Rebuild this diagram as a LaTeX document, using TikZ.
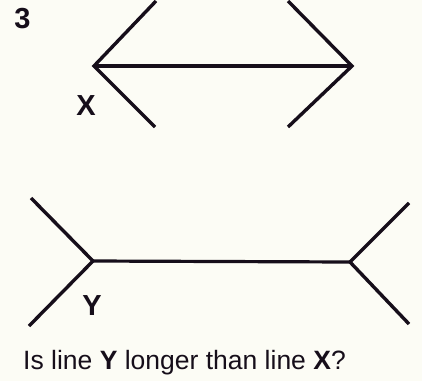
\documentclass[tikz,border=0pt]{standalone}
\usepackage{fontspec}
\setmainfont{Liberation Sans}
\definecolor{bg}{RGB}{252,252,245}
\definecolor{ink}{RGB}{22,14,26}
\begin{document}
\begin{tikzpicture}[x=1pt,y=-1pt,
  arm/.style={line width=3.4pt,draw=ink,line cap=butt,line join=miter},
  shaft/.style={line width=3.2pt,draw=ink},
  lbl/.style={inner sep=0pt,text=ink,font=\fontsize{29}{34}\selectfont\bfseries},
  caption/.style={inner sep=0pt,text=ink,font=\fontsize{26.5}{32}\selectfont}]
\fill[bg] (0,0) rectangle (422,381);
\useasboundingbox (0,0) rectangle (422,381);
% figure X
\coordinate (xa) at (94,66);
\coordinate (xb) at (352,66);
\coordinate (xa1) at (156,1);
\coordinate (xa2) at (155,127);
\coordinate (xb1) at (288,1);
\coordinate (xb2) at (288,127);
\draw[arm] (xa1) -- (xa) -- (xa2);
\draw[arm] (xb1) -- (xb) -- (xb2);
\draw[shaft] (xa) -- (xb);
% figure Y
\coordinate (ya) at (93,261);
\coordinate (yb) at (350,262);
\coordinate (ya1) at (31,198);
\coordinate (ya2) at (29,326);
\coordinate (yb1) at (409,203);
\coordinate (yb2) at (409,324);
\draw[arm] (ya1) -- (ya) -- (ya2);
\draw[arm] (yb1) -- (yb) -- (yb2);
\draw[shaft] (ya) -- (yb);
% labels
\node[lbl] (num) at (22.5,18.5) {3};
\node[lbl] (lx) at (86,106) {X};
\node[lbl] (ly) at (92,306) {Y};
\node[caption,anchor=base west] (q) at (23,369) {Is line \textbf{Y} longer than line \textbf{X}?};
\end{tikzpicture}
\end{document}
